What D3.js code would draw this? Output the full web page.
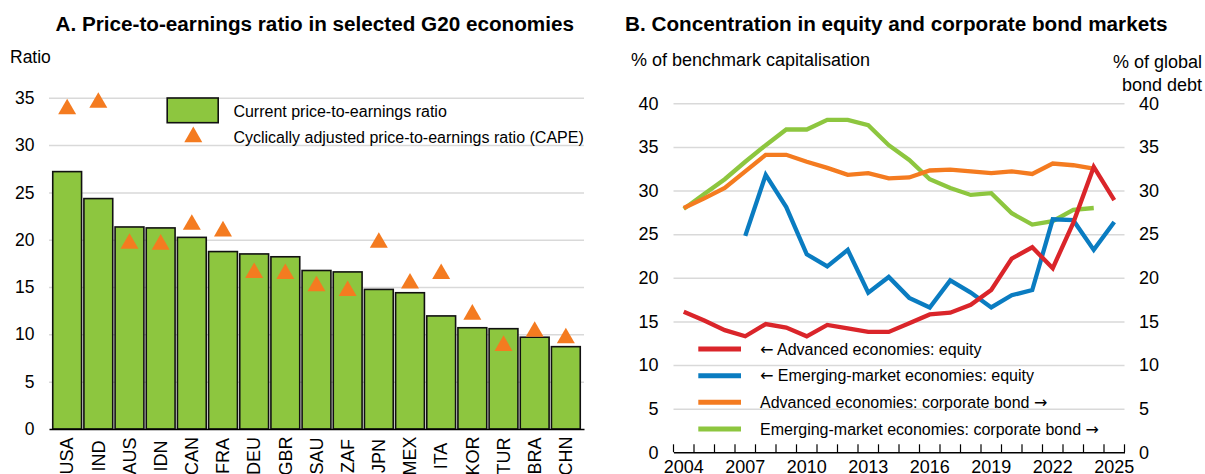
<!DOCTYPE html>
<html>
<head>
<meta charset="utf-8">
<script src="https://cdn.jsdelivr.net/npm/d3@7"></script>
<style>
  body { margin: 0; background: #fff; }
  svg { font-family: "Liberation Sans", Arial, sans-serif; }
</style>
</head>
<body>
<div id="chart"></div>
<script>
// panel A data
var countries = ["USA", "IND", "AUS", "IDN", "CAN", "FRA", "DEU", "GBR", "SAU", "ZAF", "JPN", "MEX", "ITA", "KOR", "TUR", "BRA", "CHN"];
var currentPE = [27.2, 24.35, 21.35, 21.25, 20.25, 18.75, 18.5, 18.2, 16.75, 16.6, 14.75, 14.4, 11.95, 10.7, 10.6, 9.7, 8.7];
var capePE = [33.8, 34.5, 19.6, 19.5, 21.6, 20.9, 16.5, 16.4, 15.1, 14.6, 19.7, 15.4, 16.4, 12.1, 8.8, 10.3, 9.6];
var ticksA = [0, 5, 10, 15, 20, 25, 30, 35];

// panel B data
var years = d3.range(2004, 2026);
var yearLabels = [2004, 2007, 2010, 2013, 2016, 2019, 2022, 2025];
var aeEquity = [16.1, 15.1, 14.0, 13.3, 14.7, 14.3, 13.3, 14.6, 14.2, 13.8, 13.8, 14.8, 15.8, 16.0, 16.9, 18.6, 22.2, 23.5, 21.1, 26.3, 32.7, 28.9];
var emeEquity = [null, null, null, 24.8, 31.8, 28.1, 22.7, 21.3, 23.2, 18.3, 20.1, 17.7, 16.6, 19.7, 18.3, 16.6, 18.0, 18.6, 26.7, 26.6, 23.2, 26.4];
var aeBond = [28.0, 29.1, 30.3, 32.2, 34.1, 34.1, 33.3, 32.6, 31.8, 32.0, 31.4, 31.5, 32.3, 32.4, 32.2, 32.0, 32.2, 31.9, 33.1, 32.9, 32.5, null];
var emeBond = [27.9, 29.6, 31.3, 33.3, 35.2, 37.0, 37.0, 38.1, 38.1, 37.5, 35.2, 33.5, 31.3, 30.3, 29.5, 29.7, 27.4, 26.1, 26.5, 27.8, 28.0, null];
var ticksB = [0, 5, 10, 15, 20, 25, 30, 35, 40];

var green = "#8dc63f", orange = "#f47b20", red = "#da252a", blue = "#0a7cc1", grid = "#d9d9d9";

var svg = d3.select("#chart")
  .append("svg")
  .attr("width", 1205)
  .attr("height", 474);

// ---------- Panel A ----------
var xA = d3.scaleBand()
  .domain(countries)
  .range([49, 584])
  .paddingInner(0.075)
  .paddingOuter(0.12);

var yA = d3.scaleLinear()
  .domain([0, 35])
  .range([429, 97.8]);

svg.append("text")
  .attr("x", 55.5).attr("y", 30.7)
  .style("font-size", "20.7px").style("font-weight", "bold")
  .text("A. Price-to-earnings ratio in selected G20 economies");

svg.append("text")
  .attr("x", 10).attr("y", 62.5)
  .style("font-size", "17.5px")
  .text("Ratio");

// gridlines
svg.append("g")
  .attr("transform", "translate(49,0)")
  .call(d3.axisLeft(yA).tickValues(ticksA.slice(1)).tickSize(-535).tickFormat(""))
  .call(function (g) { g.select(".domain").remove(); })
  .selectAll("line").attr("stroke", grid).attr("stroke-width", 1.5);

// y labels
svg.append("g")
  .attr("transform", "translate(49,0)")
  .call(d3.axisLeft(yA).tickValues(ticksA).tickSize(0).tickPadding(14.5))
  .call(function (g) { g.select(".domain").remove(); })
  .selectAll("text").style("font-size", "17.5px").attr("fill", "#000");

// bars
svg.append("g")
  .selectAll("rect")
  .data(countries)
  .enter()
  .append("rect")
  .attr("x", function (d) { return xA(d); })
  .attr("width", xA.bandwidth())
  .attr("y", function (d, i) { return yA(currentPE[i]); })
  .attr("height", function (d, i) { return yA(0) - yA(currentPE[i]); })
  .attr("fill", green)
  .attr("stroke", "#111")
  .attr("stroke-width", 1.6);

// x axis A (labels run off the bottom edge, as in the original)
var axA = svg.append("g")
  .attr("transform", "translate(0," + yA(0) + ")")
  .call(d3.axisBottom(xA).tickSize(0));
axA.select(".domain").attr("stroke", "#000").attr("stroke-width", 1.6);
axA.selectAll("text")
  .attr("y", 0).attr("x", -27).attr("dy", "0.35em")
  .attr("transform", "rotate(-90)")
  .style("text-anchor", "middle")
  .style("font-size", "18px")
  .attr("fill", "#000");

// CAPE triangles
var tri = d3.symbol().type(d3.symbolTriangle).size(140);
svg.append("g")
  .selectAll("path")
  .data(countries)
  .enter()
  .append("path")
  .attr("d", tri)
  .attr("transform", function (d, i) {
    return "translate(" + (xA(d) + xA.bandwidth() / 2) + "," + yA(capePE[i]) + ")";
  })
  .attr("fill", orange);

// legend A
svg.append("rect")
  .attr("x", 167.2).attr("y", 98).attr("width", 51).attr("height", 24.7)
  .attr("fill", green).attr("stroke", "#111").attr("stroke-width", 1.6);
svg.append("path").attr("d", tri).attr("transform", "translate(193.3,137)").attr("fill", orange);
svg.append("text").attr("x", 233.4).attr("y", 116.5).style("font-size", "16px").text("Current price-to-earnings ratio");
svg.append("text").attr("x", 233.4).attr("y", 142.8).style("font-size", "16px").text("Cyclically adjusted price-to-earnings ratio (CAPE)");

// ---------- Panel B ----------
var xB = d3.scaleBand()
  .domain(years)
  .range([673.5, 1124.5]);

var yB = d3.scaleLinear()
  .domain([0, 40])
  .range([452.3, 103.3]);

var yBRight = d3.scaleLinear()
  .domain([0, 40])
  .range([452.3, 103.3]);

svg.append("text")
  .attr("x", 625).attr("y", 30.7)
  .style("font-size", "20.7px").style("font-weight", "bold")
  .text("B. Concentration in equity and corporate bond markets");

svg.append("text")
  .attr("x", 631).attr("y", 65.7)
  .style("font-size", "18px")
  .text("% of benchmark capitalisation");

svg.append("text")
  .attr("x", 1202).attr("y", 68)
  .style("font-size", "18px").style("text-anchor", "end")
  .text("% of global");
svg.append("text")
  .attr("x", 1202).attr("y", 90.7)
  .style("font-size", "18px").style("text-anchor", "end")
  .text("bond debt");

svg.append("g")
  .attr("transform", "translate(673.5,0)")
  .call(d3.axisLeft(yB).tickValues(ticksB.slice(1)).tickSize(-451).tickFormat(""))
  .call(function (g) { g.select(".domain").remove(); })
  .selectAll("line").attr("stroke", grid).attr("stroke-width", 1.5);

svg.append("g")
  .attr("transform", "translate(673.5,0)")
  .call(d3.axisLeft(yB).tickValues(ticksB).tickSize(0).tickPadding(15))
  .call(function (g) { g.select(".domain").remove(); })
  .selectAll("text").style("font-size", "18px").attr("fill", "#000");

svg.append("g")
  .attr("transform", "translate(1124.5,0)")
  .call(d3.axisRight(yBRight).tickValues(ticksB).tickSize(0).tickPadding(14.5))
  .call(function (g) { g.select(".domain").remove(); })
  .selectAll("text").style("font-size", "18px").attr("fill", "#000");

// x axis B
var axB = svg.append("g")
  .attr("transform", "translate(0," + yB(0) + ")")
  .call(d3.axisBottom(xB).tickValues(yearLabels).tickSize(0).tickPadding(8.4));
axB.select(".domain").attr("stroke", "#000").attr("stroke-width", 1.6);
axB.selectAll("text").style("font-size", "18px").attr("fill", "#000");

// boundary ticks pointing up
var bounds = years.map(function (d) { return xB(d); }).concat([xB(years[years.length - 1]) + xB.bandwidth()]);
axB.selectAll(".bt")
  .data(bounds)
  .enter()
  .append("line")
  .attr("class", "bt")
  .attr("x1", function (d) { return d; })
  .attr("x2", function (d) { return d; })
  .attr("y1", 0).attr("y2", -8)
  .attr("stroke", "#000").attr("stroke-width", 1.2);

var series = [
  { values: emeBond, color: green, scale: yBRight },
  { values: aeBond, color: orange, scale: yBRight },
  { values: emeEquity, color: blue, scale: yB },
  { values: aeEquity, color: red, scale: yB }
];

series.forEach(function (s) {
  var line = d3.line()
    .defined(function (d) { return d != null; })
    .x(function (d, i) { return xB(years[i]) + xB.bandwidth() / 2; })
    .y(function (d) { return s.scale(d); });
  svg.append("path")
    .datum(s.values)
    .attr("d", line)
    .attr("fill", "none")
    .attr("stroke", s.color)
    .attr("stroke-width", 4.3);
});

// legend B -- arrows drawn in DejaVu, which has the longer arrow glyph
var legB = [
  { pre: "\u2190", label: " Advanced economies: equity", post: "", color: red },
  { pre: "\u2190", label: " Emerging-market economies: equity", post: "", color: blue },
  { pre: "", label: "Advanced economies: corporate bond ", post: "\u2192", color: orange },
  { pre: "", label: "Emerging-market economies: corporate bond ", post: "\u2192", color: green }
];
var legY = [349, 375.7, 402.3, 429];

legB.forEach(function (d, i) {
  svg.append("line")
    .attr("x1", 698.3).attr("x2", 741)
    .attr("y1", legY[i]).attr("y2", legY[i])
    .attr("stroke", d.color).attr("stroke-width", 5);
  var t = svg.append("text")
    .attr("x", 760).attr("y", legY[i]).attr("dy", "0.35em")
    .style("font-size", "16px");
  if (d.pre) t.append("tspan").style("font-family", "DejaVu Sans").text(d.pre);
  t.append("tspan").text(d.label);
  if (d.post) t.append("tspan").style("font-family", "DejaVu Sans").text(d.post);
});
</script>
</body>
</html>
